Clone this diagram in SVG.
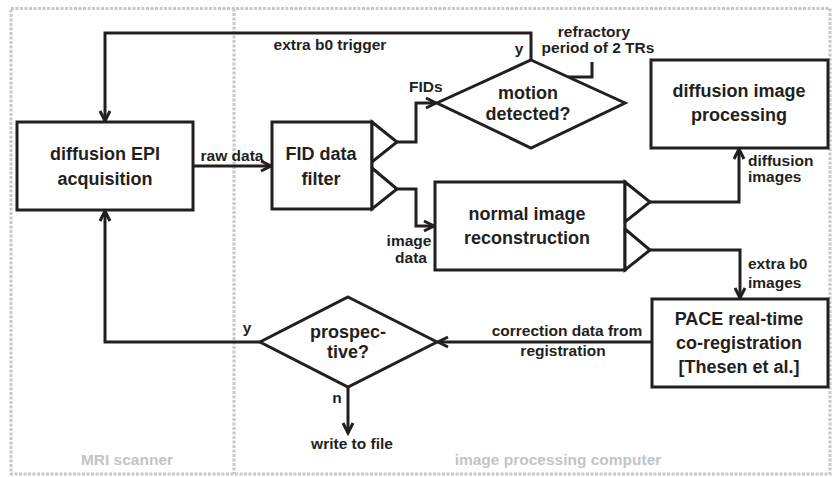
<svg xmlns="http://www.w3.org/2000/svg" width="834" height="477" viewBox="0 0 834 477">
  <style>
    .frame { fill: none; stroke: #c8c8c8; stroke-width: 3; stroke-dasharray: 3 1.5; }
    .box { fill: #ffffff; stroke: #231f20; stroke-width: 3; }
    .port { fill: #ffffff; stroke: #231f20; stroke-width: 3; stroke-linejoin: miter; }
    .edge { fill: none; stroke: #231f20; stroke-width: 3; stroke-linejoin: miter; }
    .title { font-family: "Liberation Sans", Arial, sans-serif; font-weight: bold; font-size: 18px; fill: #231f20; text-anchor: middle; }
    .label { font-family: "Liberation Sans", Arial, sans-serif; font-weight: bold; font-size: 15.5px; fill: #231f20; }
    .zone { font-family: "Liberation Sans", Arial, sans-serif; font-weight: bold; font-size: 15.5px; fill: #c4c4c4; text-anchor: middle; }
  </style>
  <defs>
    <marker id="arrow" viewBox="0 0 12 12" refX="11" refY="6" markerWidth="12" markerHeight="12" markerUnits="userSpaceOnUse" orient="auto" overflow="visible">
      <path d="M1,1 L11,6 L1,11" fill="none" stroke="#231f20" stroke-width="3" stroke-linejoin="miter"/>
    </marker>
  </defs>

  <rect width="834" height="477" fill="#ffffff"/>

  <!-- system boundaries -->
  <g id="zones">
    <rect class="frame" x="11" y="8.5" width="819" height="465.5"/>
    <line class="frame" x1="234" y1="8.5" x2="234" y2="474"/>
    <text class="zone" x="127" y="465">MRI scanner</text>
    <text class="zone" x="558" y="465">image processing computer</text>
  </g>

  <!-- connectors -->
  <g id="connectors">
    <!-- extra b0 trigger loop -->
    <polyline class="edge" points="531,60 531,33 105,33 105,121" marker-end="url(#arrow)"/>
    <text class="label" x="330" y="50" text-anchor="middle">extra b0 trigger</text>
    <text class="label" x="519" y="54" text-anchor="middle">y</text>
    <!-- refractory period stub -->
    <polyline class="edge" points="568,77 592,77 592,62"/>
    <text class="label" x="594" y="37" text-anchor="middle">refractory</text>
    <text class="label" x="598" y="53" text-anchor="middle">period of 2 TRs</text>
    <!-- raw data -->
    <line class="edge" x1="193" y1="166" x2="271" y2="166" marker-end="url(#arrow)"/>
    <text class="label" x="232" y="161" text-anchor="middle">raw data</text>
    <!-- FIDs -->
    <polyline class="edge" points="397,142 416,142 416,103 436,103" marker-end="url(#arrow)"/>
    <text class="label" x="409" y="92">FIDs</text>
    <!-- image data -->
    <polyline class="edge" points="397,189 416,189 416,226 434,226" marker-end="url(#arrow)"/>
    <text class="label" x="409" y="246" text-anchor="middle">image</text>
    <text class="label" x="411" y="263" text-anchor="middle">data</text>
    <!-- diffusion images -->
    <polyline class="edge" points="650,202 739,202 739,149" marker-end="url(#arrow)"/>
    <text class="label" x="748" y="166">diffusion</text>
    <text class="label" x="748" y="182">images</text>
    <!-- extra b0 images -->
    <polyline class="edge" points="650,250 740,250 740,298" marker-end="url(#arrow)"/>
    <text class="label" x="748" y="269">extra b0</text>
    <text class="label" x="748" y="288">images</text>
    <!-- correction data -->
    <line class="edge" x1="652" y1="342" x2="438" y2="342" marker-end="url(#arrow)"/>
    <text class="label" x="567" y="336" text-anchor="middle">correction data from</text>
    <text class="label" x="563" y="356" text-anchor="middle">registration</text>
    <!-- prospective yes: back to acquisition -->
    <polyline class="edge" points="260,342 105,342 105,211" marker-end="url(#arrow)"/>
    <text class="label" x="247" y="333" text-anchor="middle">y</text>
    <!-- prospective no: write to file -->
    <line class="edge" x1="348" y1="387" x2="348" y2="433" marker-end="url(#arrow)"/>
    <text class="label" x="337" y="403" text-anchor="middle">n</text>
    <text class="label" x="352" y="449" text-anchor="middle">write to file</text>
  </g>

  <!-- acquisition on the scanner -->
  <g id="epi-acquisition">
    <rect class="box" x="17" y="122" width="176" height="88"/>
    <text class="title" x="105" y="160">diffusion EPI</text>
    <text class="title" x="105" y="185">acquisition</text>
  </g>

  <!-- FID data filter with two output ports -->
  <g id="fid-filter">
    <rect class="box" x="272" y="122" width="100" height="87"/>
    <polygon class="port" points="372,122 397,142 372,162"/>
    <polygon class="port" points="372,168 397,189 372,209"/>
    <text class="title" x="321" y="160">FID data</text>
    <text class="title" x="321" y="185">filter</text>
  </g>

  <!-- motion decision -->
  <g id="motion-detected">
    <polygon class="box" points="531,60 625,103 531,148 437,103" stroke-linejoin="miter"/>
    <text class="title" x="528" y="99">motion</text>
    <text class="title" x="528" y="120">detected?</text>
  </g>

  <!-- image reconstruction with two output ports -->
  <g id="reconstruction">
    <rect class="box" x="435" y="182" width="190" height="88"/>
    <polygon class="port" points="625,182 650,202 625,222"/>
    <polygon class="port" points="625,229 650,250 625,270"/>
    <text class="title" x="527" y="220">normal image</text>
    <text class="title" x="527" y="244">reconstruction</text>
  </g>

  <!-- diffusion processing -->
  <g id="diffusion-processing">
    <rect class="box" x="651" y="60" width="177" height="88"/>
    <text class="title" x="739" y="97">diffusion image</text>
    <text class="title" x="739" y="121">processing</text>
  </g>

  <!-- co-registration -->
  <g id="pace">
    <rect class="box" x="652" y="299" width="176" height="88"/>
    <text class="title" x="739" y="325">PACE real-time</text>
    <text class="title" x="739" y="349">co-registration</text>
    <text class="title" x="739" y="373">[Thesen et al.]</text>
  </g>

  <!-- prospective decision -->
  <g id="prospective">
    <polygon class="box" points="348,297 437,342 348,387 260,342" stroke-linejoin="miter"/>
    <text class="title" x="348" y="338">prospec-</text>
    <text class="title" x="348" y="358">tive?</text>
  </g>
</svg>
